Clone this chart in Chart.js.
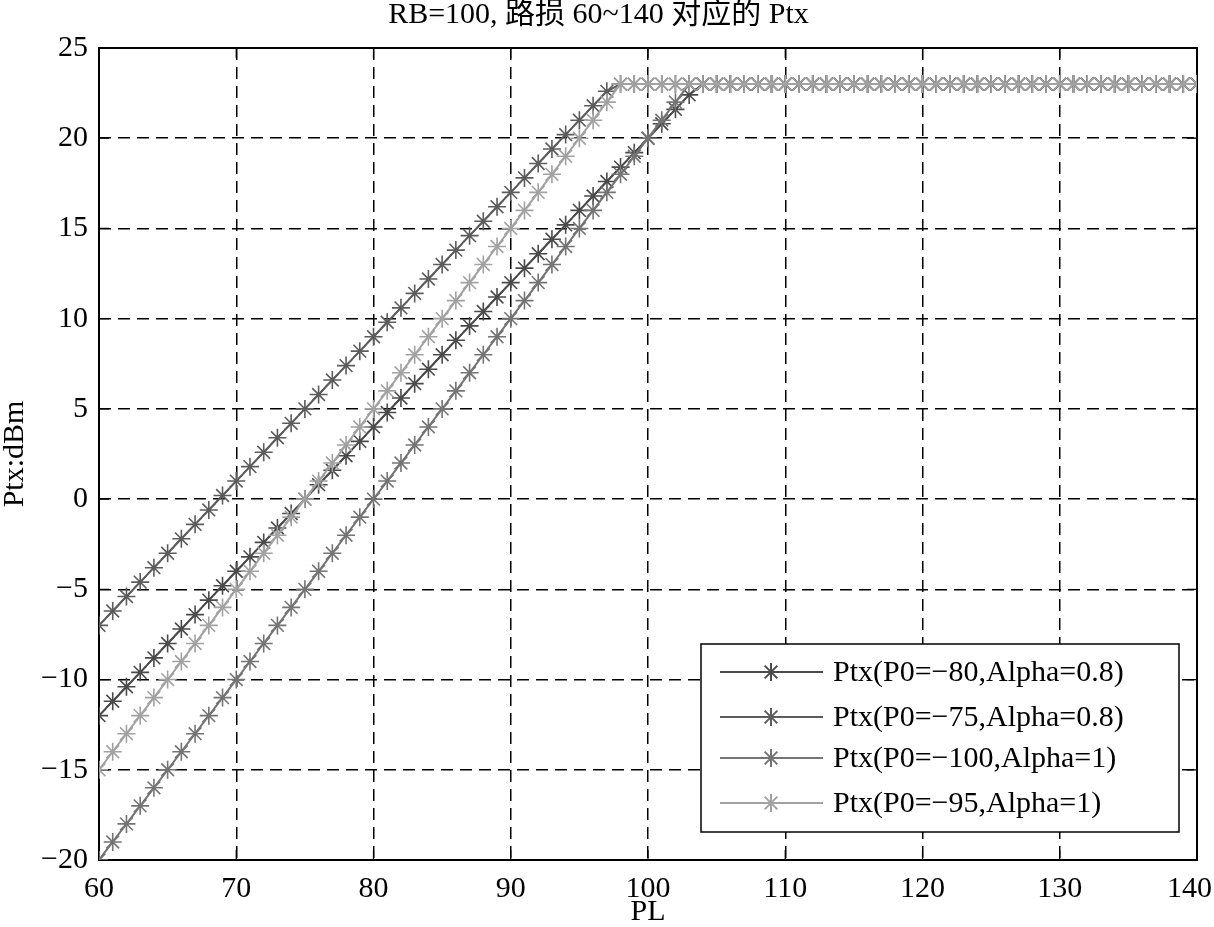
<!DOCTYPE html>
<html>
<head>
<meta charset="utf-8">
<script src="https://cdn.jsdelivr.net/npm/chart.js@4.4.1/dist/chart.umd.min.js"></script>
<style>
  html,body{margin:0;padding:0;background:#fff;}
  canvas{display:block;}
</style>
</head>
<body>
<canvas id="ptxChart" width="1214" height="927"></canvas>
<script>
var TITLE='RB=100, 路损 60~140 对应的 Ptx';
var X_LABEL='PL';
var Y_LABEL='Ptx:dBm';

var pl=[60,61,62,63,64,65,66,67,68,69,
  70,71,72,73,74,75,76,77,78,79,
  80,81,82,83,84,85,86,87,88,89,
  90,91,92,93,94,95,96,97,98,99,
  100,101,102,103,104,105,106,107,108,109,
  110,111,112,113,114,115,116,117,118,119,
  120,121,122,123,124,125,126,127,128,129,
  130,131,132,133,134,135,136,137,138,139,
  140];

var names=['Ptx(P0=\u221280,Alpha=0.8)','Ptx(P0=\u221275,Alpha=0.8)','Ptx(P0=\u2212100,Alpha=1)','Ptx(P0=\u221295,Alpha=1)'];

var ptxA=[-12,-11.2,-10.4,-9.6,-8.8,-8,-7.2,-6.4,-5.6,-4.8,
  -4,-3.2,-2.4,-1.6,-0.8,0,0.8,1.6,2.4,3.2,
  4,4.8,5.6,6.4,7.2,8,8.8,9.6,10.4,11.2,
  12,12.8,13.6,14.4,15.2,16,16.8,17.6,18.4,19.2,
  20,20.8,21.6,22.4,23,23,23,23,23,23,
  23,23,23,23,23,23,23,23,23,23,
  23,23,23,23,23,23,23,23,23,23,
  23,23,23,23,23,23,23,23,23,23,
  23];
var ptxB=[-7,-6.2,-5.4,-4.6,-3.8,-3,-2.2,-1.4,-0.6,0.2,
  1,1.8,2.6,3.4,4.2,5,5.8,6.6,7.4,8.2,
  9,9.8,10.6,11.4,12.2,13,13.8,14.6,15.4,16.2,
  17,17.8,18.6,19.4,20.2,21,21.8,22.6,23,23,
  23,23,23,23,23,23,23,23,23,23,
  23,23,23,23,23,23,23,23,23,23,
  23,23,23,23,23,23,23,23,23,23,
  23,23,23,23,23,23,23,23,23,23,
  23];
var ptxC=[-20,-19,-18,-17,-16,-15,-14,-13,-12,-11,
  -10,-9,-8,-7,-6,-5,-4,-3,-2,-1,
  0,1,2,3,4,5,6,7,8,9,
  10,11,12,13,14,15,16,17,18,19,
  20,21,22,23,23,23,23,23,23,23,
  23,23,23,23,23,23,23,23,23,23,
  23,23,23,23,23,23,23,23,23,23,
  23,23,23,23,23,23,23,23,23,23,
  23];
var ptxD=[-15,-14,-13,-12,-11,-10,-9,-8,-7,-6,
  -5,-4,-3,-2,-1,0,1,2,3,4,
  5,6,7,8,9,10,11,12,13,14,
  15,16,17,18,19,20,21,22,23,23,
  23,23,23,23,23,23,23,23,23,23,
  23,23,23,23,23,23,23,23,23,23,
  23,23,23,23,23,23,23,23,23,23,
  23,23,23,23,23,23,23,23,23,23,
  23];

var xTicks=[60,70,80,90,100,110,120,130,140];
var yTicks=[-20,-15,-10,-5,0,5,10,15,20,25];

var colors=['#4a4a4a','#5c5c5c','#747474','#a2a2a2'];
var FONT='"Liberation Serif", "Times New Roman", "Noto Sans CJK SC", serif';

function pts(ys){ return pl.map(function(x,i){ return {x:x,y:ys[i]}; }); }
function minus(v){ return String(v).replace('-','\u2212'); }

function ds(i,ys){
  return {label:names[i],data:pts(ys),borderColor:colors[i],backgroundColor:colors[i],
    pointBorderColor:colors[i],borderWidth:2,pointStyle:'star',pointRadius:9,pointBorderWidth:1.6,
    pointHoverRadius:9,tension:0,fill:false,order:4-i};
}

// box + inward ticks, like the matlab axes
var axesBox={
  id:'axesBox',
  beforeDatasetsDraw:function(chart){
    var a=chart.chartArea,ctx=chart.ctx,xs=chart.scales.x,ys=chart.scales.y;
    ctx.save();
    ctx.strokeStyle='#000';ctx.lineWidth=1.2;
    xTicks.forEach(function(t){
      var px=xs.getPixelForValue(t);
      ctx.beginPath();ctx.moveTo(px,a.bottom);ctx.lineTo(px,a.bottom-10);
      ctx.moveTo(px,a.top);ctx.lineTo(px,a.top+10);ctx.stroke();
    });
    yTicks.forEach(function(t){
      var py=ys.getPixelForValue(t);
      ctx.beginPath();ctx.moveTo(a.left,py);ctx.lineTo(a.left+10,py);
      ctx.moveTo(a.right,py);ctx.lineTo(a.right-10,py);ctx.stroke();
    });
    ctx.lineWidth=2;
    ctx.strokeRect(a.left,a.top,a.right-a.left,a.bottom-a.top);
    ctx.restore();
  }
};

var boxLegend={
  id:'boxLegend',
  afterDraw:function(chart){
    var a=chart.chartArea,ctx=chart.ctx;
    var w=478,h=188,x0=a.right-18-w,y0=a.bottom-28-h;
    var rows=[28,73,114,159];
    ctx.save();
    ctx.fillStyle='#fff';ctx.fillRect(x0,y0,w,h);
    ctx.strokeStyle='#000';ctx.lineWidth=1.5;ctx.strokeRect(x0,y0,w,h);
    ctx.font='30px '+FONT;ctx.textBaseline='middle';ctx.textAlign='left';
    names.forEach(function(n,i){
      var y=y0+rows[i];
      ctx.strokeStyle=colors[i];ctx.lineWidth=2;
      ctx.beginPath();ctx.moveTo(x0+19,y);ctx.lineTo(x0+122,y);ctx.stroke();
      Chart.helpers.drawPoint(ctx,{pointStyle:'star',radius:9,borderWidth:1.6,rotation:0},x0+70,y);
      ctx.fillStyle='#000';
      ctx.fillText(n,x0+132,y+1);
    });
    ctx.restore();
  }
};

new Chart(document.getElementById('ptxChart').getContext('2d'),{
  type:'line',
  data:{datasets:[ds(0,ptxA),ds(1,ptxB),ds(2,ptxC),ds(3,ptxD)]},
  options:{
    responsive:false,animation:false,events:[],
    layout:{padding:{left:0,right:17,top:0,bottom:0}},
    plugins:{
      legend:{display:false},tooltip:{enabled:false},
      title:{display:true,text:TITLE,color:'#000',
        font:{family:FONT,size:30,weight:'normal',lineHeight:1},padding:{top:0,bottom:18}}
    },
    scales:{
      x:{type:'linear',min:60,max:140,
        afterFit:function(s){ s.height=67; s.paddingLeft=0; s.paddingRight=0; },
        afterBuildTicks:function(s){ s.ticks=xTicks.map(function(v){return {value:v};}); },
        // last label pulled in a little so it stays on the canvas
        ticks:{color:'#000',padding:11,maxRotation:0,font:{family:FONT,size:30},
          callback:function(v){ return v===140 ? '140  ' : minus(v); }},
        grid:{color:'#000',lineWidth:1.5,drawTicks:false},
        border:{display:false,dash:[12,7]},
        title:{display:true,text:X_LABEL,color:'#000',font:{family:FONT,size:30,lineHeight:1},padding:{top:0,bottom:0}}
      },
      y:{type:'linear',min:-20,max:25,
        afterFit:function(s){ s.width=99; s.paddingTop=0; s.paddingBottom=0; },
        afterBuildTicks:function(s){ s.ticks=yTicks.map(function(v){return {value:v};}); },
        ticks:{color:'#000',padding:11,font:{family:FONT,size:30},callback:function(v){return minus(v);}},
        grid:{color:'#000',lineWidth:1.5,drawTicks:false},
        border:{display:false,dash:[12,7]},
        title:{display:true,text:Y_LABEL,color:'#000',font:{family:FONT,size:30,lineHeight:1},padding:{top:0,bottom:0}}
      }
    }
  },
  plugins:[axesBox,boxLegend]
});
</script>
</body>
</html>
